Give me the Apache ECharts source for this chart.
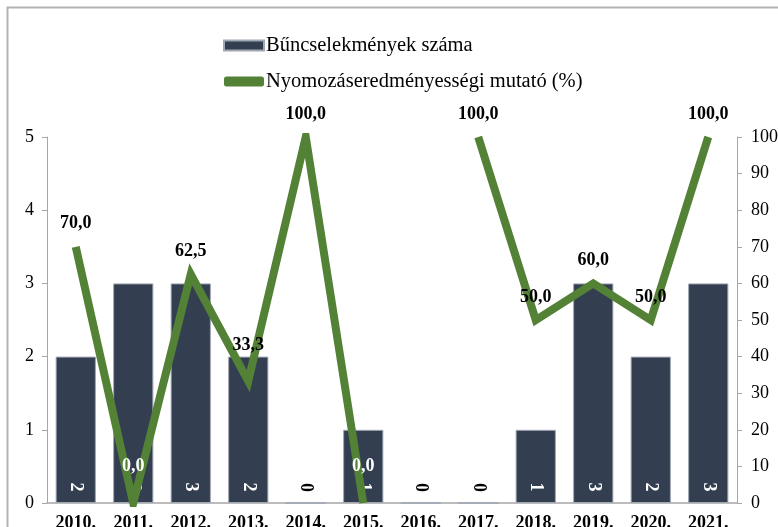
<!DOCTYPE html>
<html lang="hu">
<head>
    <meta charset="UTF-8">
    <title>Bűncselekmények száma</title>
    <script src="https://cdn.jsdelivr.net/npm/echarts@6/dist/echarts.min.js"></script>
    <style>
        html, body { margin: 0; padding: 0; background: #fff; }
        #chart { width: 778px; height: 527px; }
    </style>
</head>
<body>
<div id="chart"></div>
<script>
    // adatok
    var years = ['2010.', '2011.', '2012.', '2013.', '2014.', '2015.', '2016.', '2017.', '2018.', '2019.', '2020.', '2021.'];
    var crimes = [2, 3, 3, 2, 0, 1, 0, 0, 1, 3, 2, 3];
    var ratio = [70, 0, 62.5, 33.3, 100, 0, null, 100, 50, 60, 50, 100];
    var leftTicks = [0, 1, 2, 3, 4, 5];
    var rightTicks = [0, 10, 20, 30, 40, 50, 60, 70, 80, 90, 100];

    var serif = '"Liberation Serif", "DejaVu Serif", serif';
    var barName = 'Bűncselekmények száma';
    var lineName = 'Nyomozáseredményességi mutató (%)';

    var barData = crimes.map(function (v) {
        return {
            value: v,
            label: { color: v === 0 ? '#000' : '#fff' }
        };
    });

    var lineData = ratio.map(function (v) {
        var item = { value: v };
        if (v === 0) {
            item.label = { color: '#fff', distance: 28 };
        } else if (v !== null && v < 40) {
            item.label = { distance: 27 };
        }
        return item;
    });

    var chart = echarts.init(document.getElementById('chart'));
    var option = {
        animation: false,
        graphic: [{
            type: 'rect',
            shape: { x: 7.5, y: 7.5, width: 800, height: 600 },
            style: { fill: 'none', stroke: '#b4b4b4', lineWidth: 2 },
            silent: true
        }],
        legend: {
            orient: 'vertical',
            left: 218,
            top: 30,
            itemWidth: 40,
            itemHeight: 10,
            itemGap: 15,
            textStyle: { fontFamily: serif, fontSize: 20.5, color: '#000', padding: [0, 0, 0, -3] },
            data: [
                { name: barName, icon: 'rect' },
                { name: lineName, icon: 'roundRect' }
            ]
        },
        grid: { left: 47, right: 41, top: 137, bottom: 24, containLabel: false, outerBoundsMode: 'none' },
        xAxis: {
            type: 'category',
            data: years,
            axisLine: { lineStyle: { color: '#a6a6a6', width: 1.5 } },
            axisTick: { show: false },
            axisLabel: { fontFamily: serif, fontSize: 18, fontWeight: 'bold', color: '#000', margin: 11 }
        },
        yAxis: [{
            type: 'value',
            min: leftTicks[0],
            max: leftTicks[leftTicks.length - 1],
            interval: 1,
            splitLine: { show: false },
            axisLine: { show: true, lineStyle: { color: '#a6a6a6' } },
            axisTick: { show: true, length: 5, lineStyle: { color: '#a6a6a6' } },
            axisLabel: { fontFamily: serif, fontSize: 18, color: '#000', margin: 13 }
        }, {
            type: 'value',
            min: rightTicks[0],
            max: rightTicks[rightTicks.length - 1],
            interval: 10,
            splitLine: { show: false },
            axisLine: { show: true, lineStyle: { color: '#a6a6a6' } },
            axisTick: { show: true, length: 5, lineStyle: { color: '#a6a6a6' } },
            axisLabel: { fontFamily: serif, fontSize: 18, color: '#000', margin: 14 }
        }],
        series: [{
            name: barName,
            type: 'bar',
            yAxisIndex: 0,
            data: barData,
            barCategoryGap: '30%',
            itemStyle: { color: '#333f50', borderColor: '#a0a8b4', borderWidth: 1 },
            label: {
                show: true,
                position: 'insideBottom',
                distance: 16,
                rotate: -90,
                align: 'center',
                verticalAlign: 'middle',
                fontFamily: serif,
                fontSize: 18,
                fontWeight: 'bold'
            },
            z: 2
        }, {
            name: lineName,
            type: 'line',
            yAxisIndex: 1,
            data: lineData,
            connectNulls: false,
            showSymbol: true,
            symbol: 'circle',
            symbolSize: 0,
            itemStyle: { color: '#538135' },
            lineStyle: { color: '#538135', width: 8, join: 'miter' },
            label: {
                show: true,
                position: 'top',
                distance: 14,
                fontFamily: serif,
                fontSize: 18,
                fontWeight: 'bold',
                color: '#000',
                formatter: function (p) {
                    return p.value == null ? '' : p.value.toFixed(1).replace('.', ',');
                }
            },
            labelLayout: { hideOverlap: false },
            z: 3
        }]
    };
    chart.setOption(option);
</script>
</body>
</html>
